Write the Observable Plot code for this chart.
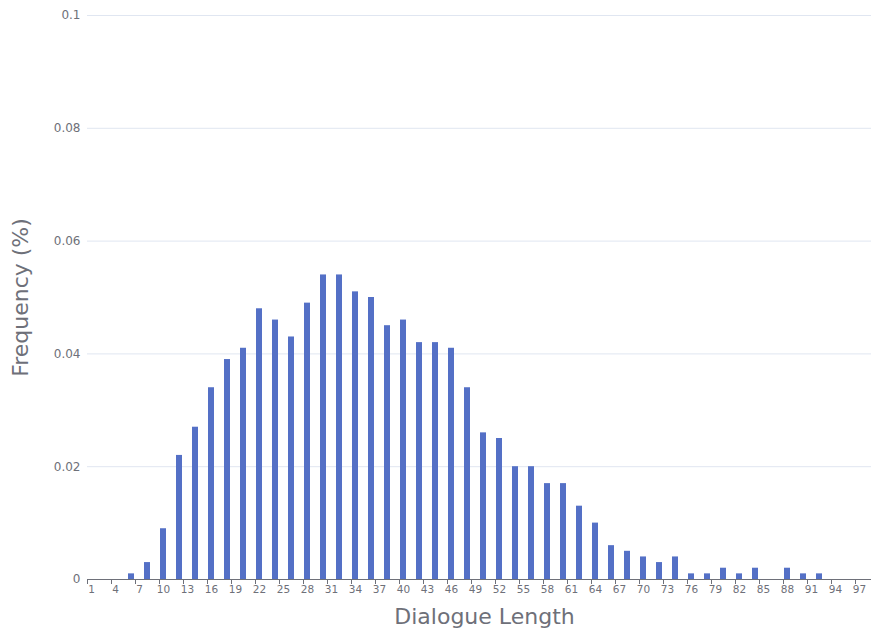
<!DOCTYPE html>
<html>
<head>
<meta charset="utf-8">
<script src="https://cdn.jsdelivr.net/npm/d3@7"></script>
<script src="https://cdn.jsdelivr.net/npm/@observablehq/plot@0.6"></script>
<style>
  html, body { margin: 0; padding: 0; background: #fff; }
  #chart svg { display: block; font-family: "DejaVu Sans", sans-serif; }
</style>
</head>
<body>
<div id="chart"></div>
<script>
// Categories on the x axis (dialogue lengths 1..98)
const categories = d3.range(1, 99);
// Dialogue lengths that have a bar, and their frequencies
const lengths = [6, 8, 10, 12, 14, 16, 18, 20, 22, 24, 26, 28, 30, 32, 34, 36, 38, 40, 42, 44, 46, 48, 50,
  52, 54, 56, 58, 60, 62, 64, 66, 68, 70, 72, 74, 76, 78, 80, 82, 84, 88, 90, 92];
const frequencies = [0.001, 0.003, 0.009, 0.022, 0.027, 0.034, 0.039, 0.041, 0.048, 0.046, 0.043, 0.049,
  0.054, 0.054, 0.051, 0.050, 0.045, 0.046, 0.042, 0.042, 0.041, 0.034, 0.026, 0.025, 0.020, 0.020,
  0.017, 0.017, 0.013, 0.010, 0.006, 0.005, 0.004, 0.003, 0.004, 0.001, 0.001, 0.002, 0.001, 0.002,
  0.002, 0.001, 0.001];
// Tick labels
const xTickLabels = [1, 4, 7, 10, 13, 16, 19, 22, 25, 28, 31, 34, 37, 40, 43, 46, 49, 52, 55, 58, 61, 64, 67, 70, 73, 76, 79, 82, 85, 88, 91, 94, 97];
const yTicks = [0, 0.02, 0.04, 0.06, 0.08, 0.1];
const yTickLabels = ["0", "0.02", "0.04", "0.06", "0.08", "0.1"];

const data = lengths.map((l, i) => ({length: l, freq: frequencies[i]}));

const labelColor = "#6E7079";

const chart = Plot.plot({
  width: 873,
  height: 628,
  marginLeft: 87,
  marginRight: 2,
  marginTop: 15,
  marginBottom: 49,
  style: {fontFamily: "DejaVu Sans, sans-serif", background: "#fff"},
  x: {type: "band", domain: categories, paddingInner: 0.25, paddingOuter: 0.125},
  y: {domain: [0, 0.1]},
  marks: [
    Plot.ruleY(yTicks.slice(1), {stroke: "#E0E6F1", strokeWidth: 1}),
    Plot.barY(data, {x: "length", y: "freq", fill: "#5470C6"}),
    Plot.ruleY([0], {stroke: "#6E7079", strokeWidth: 1}),
    // tick marks at category boundaries
    Plot.axisX({ticks: xTickLabels, tickSize: 5, text: null, dx: -4, stroke: "#6E7079", label: null}),
    // labels at category centres
    Plot.axisX({ticks: xTickLabels, tickSize: 0, tickPadding: 6, fontSize: 10.5, fill: labelColor, label: null}),
    Plot.axisY({ticks: yTicks, tickSize: 0, tickPadding: 7, fontSize: 12, fill: labelColor, label: null,
      tickFormat: (d) => yTickLabels[yTicks.indexOf(d)]}),
    Plot.text(["Dialogue Length"], {frameAnchor: "bottom", lineAnchor: "middle", textAnchor: "middle",
      dy: 37, dx: 5, fontSize: 22, fill: labelColor}),
    Plot.text(["Frequency (%)"], {frameAnchor: "left", lineAnchor: "middle", textAnchor: "middle",
      dx: -67, rotate: -90, fontSize: 22, fill: labelColor})
  ]
});

document.getElementById("chart").appendChild(chart);
</script>
</body>
</html>
